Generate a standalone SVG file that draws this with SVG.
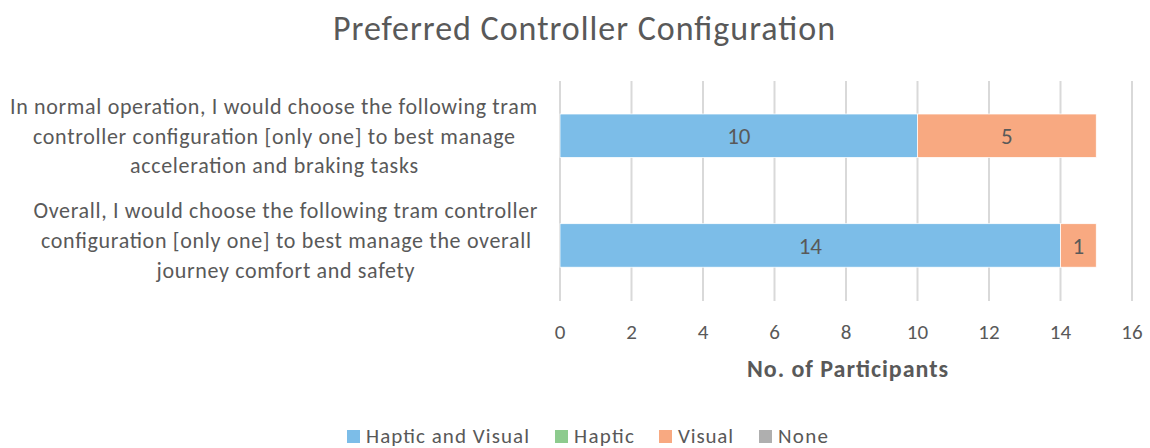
<svg xmlns="http://www.w3.org/2000/svg" width="1150" height="448" viewBox="0 0 1150 448">
  <style>
    text { font-family: Carlito, Lato, "Open Sans", sans-serif; fill: #595959; }
    .title { font-size: 34px; text-anchor: middle; }
    .cat { font-size: 22px; text-anchor: middle; }
    .tick { font-size: 21px; text-anchor: middle; }
    .axis { font-size: 24px; font-weight: bold; text-anchor: middle; }
    .val { font-size: 23px; text-anchor: middle; }
    .leg { font-size: 21px; }
    .grid { stroke: #d9d9d9; stroke-width: 2; }
    .hv { fill: #7cbde8; stroke: #ffffff; stroke-width: 0.75; }
    .vis { fill: #f8a981; stroke: #ffffff; stroke-width: 0.75; }
  </style>

  <rect width="1150" height="448" fill="#ffffff"/>

  <text class="title" x="584" y="40" textLength="502" lengthAdjust="spacing">Preferred Controller Configuration</text>

  <!-- vertical gridlines, one per 2 participants (35.75 px per unit) -->
  <g id="gridlines">
    <line class="grid" x1="560" y1="81" x2="560" y2="301"/>
    <line class="grid" x1="631.5" y1="81" x2="631.5" y2="301"/>
    <line class="grid" x1="703" y1="81" x2="703" y2="301"/>
    <line class="grid" x1="774.5" y1="81" x2="774.5" y2="301"/>
    <line class="grid" x1="846" y1="81" x2="846" y2="301"/>
    <line class="grid" x1="917.5" y1="81" x2="917.5" y2="301"/>
    <line class="grid" x1="989" y1="81" x2="989" y2="301"/>
    <line class="grid" x1="1060.5" y1="81" x2="1060.5" y2="301"/>
    <line class="grid" x1="1132" y1="81" x2="1132" y2="301"/>
  </g>

  <!-- category labels -->
  <g id="category-1">
    <text class="cat" x="273.5" y="114" textLength="527" lengthAdjust="spacing">In normal operation, I would choose the following tram</text>
    <text class="cat" x="274" y="143.5" textLength="482" lengthAdjust="spacing">controller configuration [only one] to best manage</text>
    <text class="cat" x="274" y="173" textLength="288" lengthAdjust="spacing">acceleration and braking tasks</text>
  </g>
  <g id="category-2">
    <text class="cat" x="285.5" y="218" textLength="504" lengthAdjust="spacing">Overall, I would choose the following tram controller</text>
    <text class="cat" x="286" y="248" textLength="490" lengthAdjust="spacing">configuration [only one] to best manage the overall</text>
    <text class="cat" x="285.5" y="277.5" textLength="258" lengthAdjust="spacing">journey comfort and safety</text>
  </g>

  <!-- stacked bars -->
  <g id="bar-1">
    <rect class="hv" x="560" y="114" width="357.5" height="43.5"/>
    <rect class="vis" x="917.5" y="114" width="178.75" height="43.5"/>
    <text class="val" x="738.8" y="144">10</text>
    <text class="val" x="1006.9" y="144">5</text>
  </g>
  <g id="bar-2">
    <rect class="hv" x="560" y="223.7" width="500.5" height="43.5"/>
    <rect class="vis" x="1060.5" y="223.7" width="35.75" height="43.5"/>
    <text class="val" x="810.3" y="254">14</text>
    <text class="val" x="1078.4" y="254">1</text>
  </g>

  <!-- x axis -->
  <g id="x-axis">
    <text class="tick" x="560" y="339">0</text>
    <text class="tick" x="631.5" y="339">2</text>
    <text class="tick" x="703" y="339">4</text>
    <text class="tick" x="774.5" y="339">6</text>
    <text class="tick" x="846" y="339">8</text>
    <text class="tick" x="917.5" y="339">10</text>
    <text class="tick" x="989" y="339">12</text>
    <text class="tick" x="1060.5" y="339">14</text>
    <text class="tick" x="1132" y="339">16</text>
    <text class="axis" x="847.5" y="376.5" textLength="201" lengthAdjust="spacing">No. of Participants</text>
  </g>

  <!-- legend -->
  <g id="legend">
    <rect x="347" y="430" width="13" height="13" fill="#7cbde8"/>
    <text class="leg" x="366" y="443" textLength="163" lengthAdjust="spacing">Haptic and Visual</text>
    <rect x="555" y="430" width="13" height="13" fill="#8dcb8e"/>
    <text class="leg" x="574" y="443" textLength="60" lengthAdjust="spacing">Haptic</text>
    <rect x="659" y="430" width="13" height="13" fill="#f8a981"/>
    <text class="leg" x="678" y="443" textLength="55" lengthAdjust="spacing">Visual</text>
    <rect x="759" y="430" width="13" height="13" fill="#afafaf"/>
    <text class="leg" x="778" y="443" textLength="50" lengthAdjust="spacing">None</text>
  </g>
</svg>
